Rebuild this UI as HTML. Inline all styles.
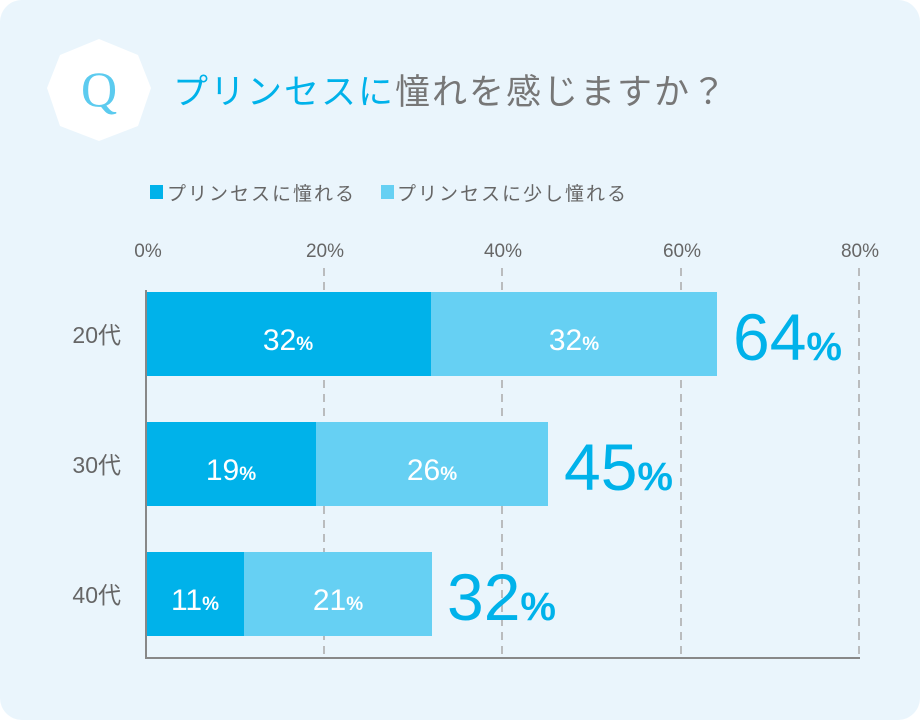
<!DOCTYPE html>
<html><head><meta charset="utf-8"><style>
body{margin:0;background:#fff;}
</style></head><body>
<svg width="920" height="720" xmlns="http://www.w3.org/2000/svg" style="display:block;font-family:'Liberation Sans','Noto Sans CJK JP',sans-serif">
<rect x="0" y="0" width="920" height="720" rx="22" fill="#eaf5fc"/>
<polygon points="99,39 138,55 151,88 138,126 99,141 60,126 47,88 60,55" fill="#fff"/>
<text x="99" y="106" text-anchor="middle" font-family="'Liberation Serif',serif" font-size="50" fill="#5ccbef">Q</text>
<text x="173" y="104" font-size="35" letter-spacing="2" fill="#00b2ea">プリンセスに<tspan fill="#777">憧れを感じますか？</tspan></text>
<rect x="150" y="185" width="13" height="14" fill="#00b2ea"/>
<text x="167" y="200" font-size="19" letter-spacing="2" fill="#666">プリンセスに憧れる</text>
<rect x="381" y="185" width="13" height="14" fill="#66d0f3"/>
<text x="397" y="200" font-size="19" letter-spacing="2" fill="#666">プリンセスに少し憧れる</text>
<g font-size="19" fill="#666" text-anchor="middle">
<text x="148" y="257">0%</text><text x="325" y="257">20%</text><text x="503" y="257">40%</text><text x="682" y="257">60%</text><text x="860" y="257">80%</text>
</g>
<g stroke="#aaa" stroke-width="1.5" stroke-dasharray="8,6">
<line x1="324" y1="268" x2="324" y2="658"/><line x1="502" y1="268" x2="502" y2="658"/><line x1="681" y1="268" x2="681" y2="658"/><line x1="859" y1="268" x2="859" y2="658"/>
</g>
<g font-size="23" fill="#666" text-anchor="end">
<text x="121" y="343">20代</text><text x="121" y="473">30代</text><text x="121" y="603">40代</text>
</g>
<rect x="146" y="292" width="285" height="84" fill="#00b2ea"/>
<rect x="431" y="292" width="286" height="84" fill="#66d0f3"/>
<rect x="146" y="422" width="170" height="84" fill="#00b2ea"/>
<rect x="316" y="422" width="232" height="84" fill="#66d0f3"/>
<rect x="146" y="552" width="98" height="84" fill="#00b2ea"/>
<rect x="244" y="552" width="188" height="84" fill="#66d0f3"/>
<line x1="146" y1="290" x2="146" y2="659" stroke="#888" stroke-width="2"/>
<line x1="145" y1="658" x2="860" y2="658" stroke="#888" stroke-width="2"/>
<g fill="#fff" font-size="30" text-anchor="middle">
<text x="288" y="350">32<tspan font-size="19" font-weight="bold">%</tspan></text>
<text x="574" y="350">32<tspan font-size="19" font-weight="bold">%</tspan></text>
<text x="231" y="480">19<tspan font-size="19" font-weight="bold">%</tspan></text>
<text x="432" y="480">26<tspan font-size="19" font-weight="bold">%</tspan></text>
<text x="195" y="610">11<tspan font-size="19" font-weight="bold">%</tspan></text>
<text x="338" y="610">21<tspan font-size="19" font-weight="bold">%</tspan></text>
</g>
<g fill="#00b2ea" font-size="66">
<text x="733" y="360">64<tspan font-size="40" font-weight="bold">%</tspan></text>
<text x="564" y="490">45<tspan font-size="40" font-weight="bold">%</tspan></text>
<text x="447" y="620">32<tspan font-size="40" font-weight="bold">%</tspan></text>
</g>
</svg>
</body></html>
